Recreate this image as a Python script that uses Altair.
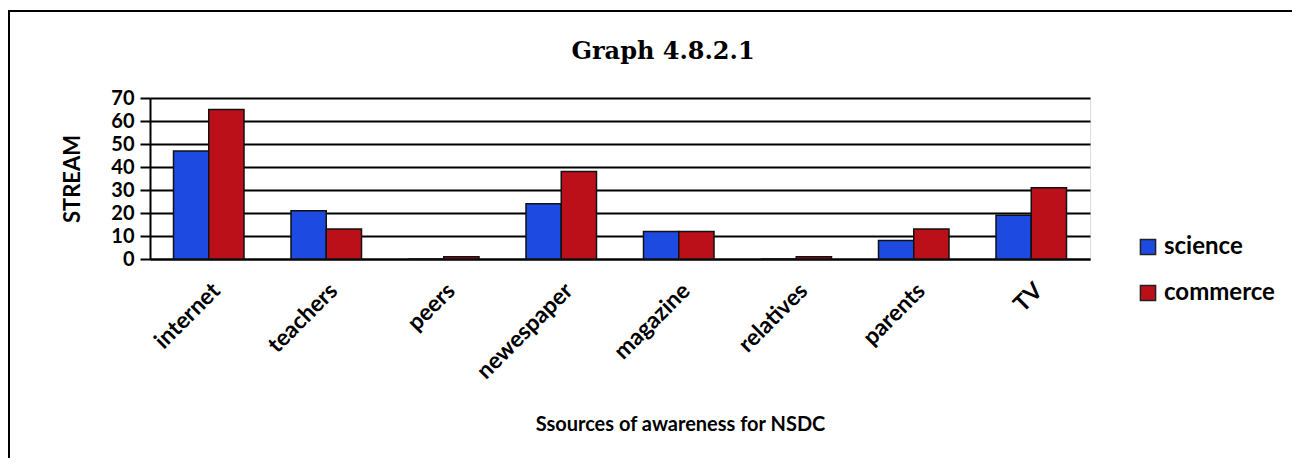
import altair as alt
import pandas as pd

categories = ["internet", "teachers", "peers", "newespaper", "magazine", "relatives", "parents", "TV"]
science = [47, 21, 0, 24, 12, 0, 8, 19]
commerce = [65, 13, 1, 38, 12, 1, 13, 31]
series = ["science", "commerce"]
colors = ["#1d4ae0", "#bb101a"]
y_ticks = [0, 10, 20, 30, 40, 50, 60, 70]

rows = []
for c, s, m in zip(categories, science, commerce):
    rows.append({"source": c, "stream": "science", "value": s})
    rows.append({"source": c, "stream": "commerce", "value": m})
df = pd.DataFrame(rows)

SANS = "Lato"

bars = alt.Chart(df).mark_bar(stroke="#111111", strokeWidth=1.5).encode(
    x=alt.X("source:N", sort=categories,
            scale=alt.Scale(paddingInner=0.4, paddingOuter=0.2),
            axis=alt.Axis(title="Ssources of awareness for NSDC", labelAngle=-45,
                          labelAlign="right", labelBaseline="top",
                          labelFont=SANS, labelFontSize=23, labelFontWeight="bold",
                          labelColor="black", labelPadding=20,
                          domain=True, domainColor="black", domainWidth=2,
                          ticks=False, grid=False,
                          titleFont=SANS, titleFontSize=20, titleFontWeight="bold",
                          titleColor="black", titleY=171, titleX=530,
                          titleBaseline="alphabetic")),
    xOffset=alt.XOffset("stream:N", sort=series),
    y=alt.Y("value:Q", scale=alt.Scale(domain=[0, 70], nice=False),
            axis=alt.Axis(title="STREAM", values=y_ticks,
                          labelFont=SANS, labelFontSize=20, labelFontWeight="bold",
                          labelColor="black", labelPadding=6,
                          grid=True, gridColor="black", gridWidth=2,
                          domain=True, domainColor="black", domainWidth=2,
                          ticks=True, tickColor="black", tickWidth=2, tickSize=10,
                          titleFont=SANS, titleFontSize=22, titleFontWeight="bold",
                          titleColor="black", titlePadding=26)),
    color=alt.Color("stream:N", sort=series,
                    scale=alt.Scale(domain=series, range=colors),
                    legend=alt.Legend(title=None, orient="none", legendX=986, legendY=137,
                                      symbolType="square", symbolSize=230,
                                      symbolStrokeColor="#222222", symbolStrokeWidth=1.5,
                                      labelFont=SANS, labelFontSize=24, labelFontWeight="bold",
                                      labelColor="black", rowPadding=22, labelOffset=4)),
)

frame = alt.Chart(pd.DataFrame({"a": [0]})).mark_rect(
    fillOpacity=0, stroke="black", strokeWidth=2
).encode(
    x=alt.value(-141), x2=alt.value(1160), y=alt.value(-87), y2=alt.value(400)
)

chart = alt.layer(bars, frame).properties(
    width=940, height=161,
    title=alt.TitleParams("Graph 4.8.2.1", font="DejaVu Serif", fontSize=24,
                          fontWeight="bold", color="black", anchor="middle",
                          frame="group", dx=43, offset=-54),
    autosize=alt.AutoSizeParams(type="none"),
    padding={"left": 142, "top": 90, "right": 202, "bottom": 199},
).configure_view(stroke=None).configure(background="white")

chart.save("out.html", embed_options={"renderer": "svg", "actions": False})
